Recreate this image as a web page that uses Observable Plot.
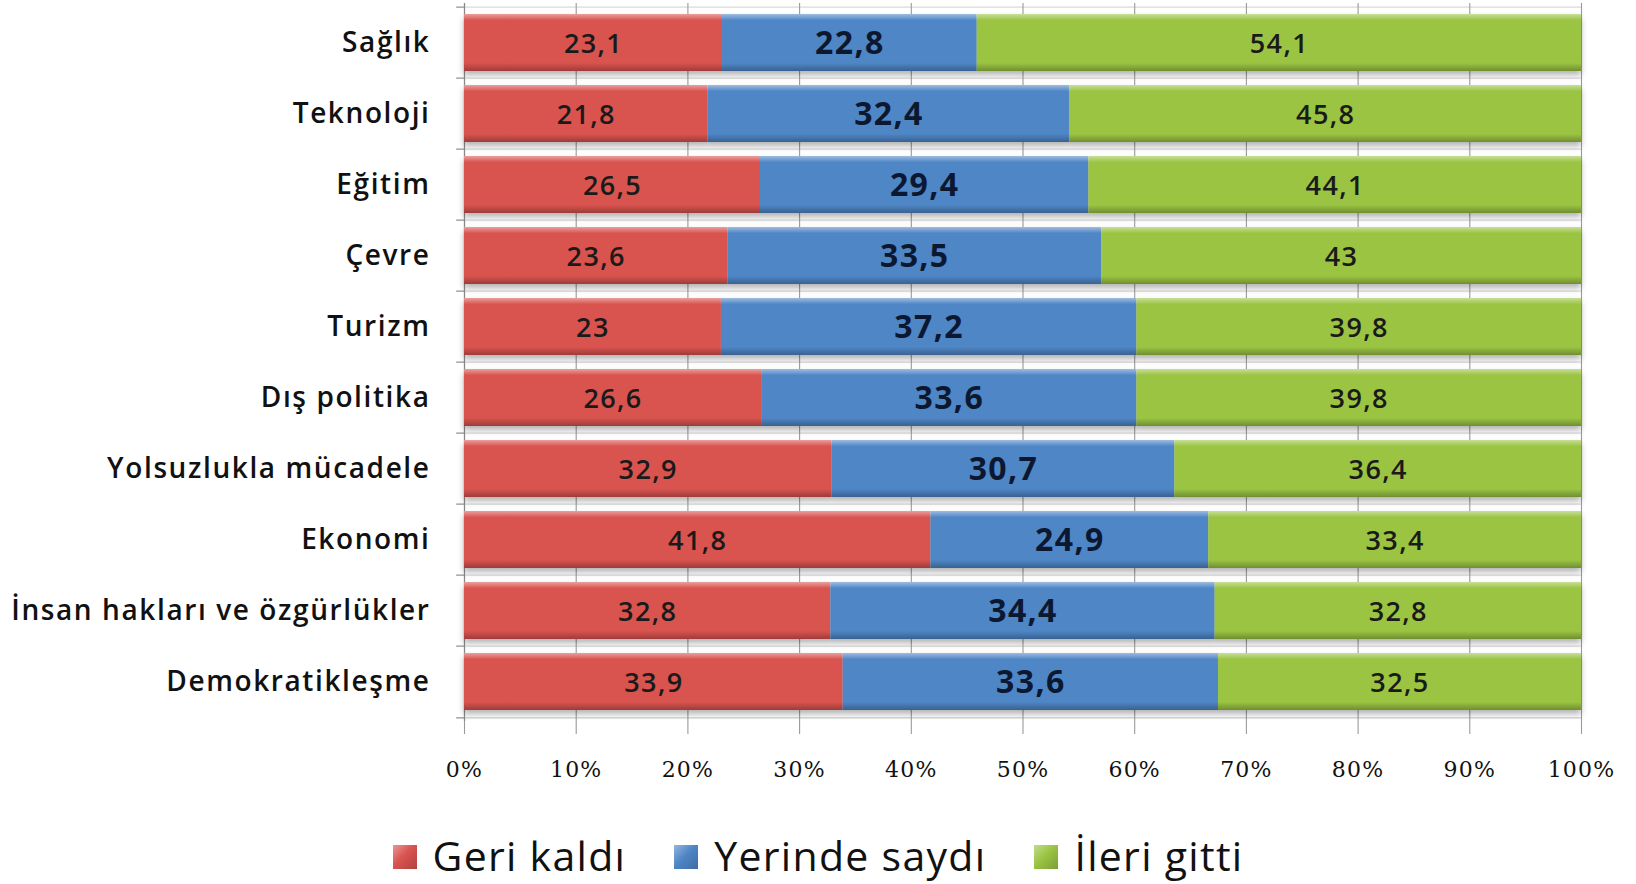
<!DOCTYPE html>
<html><head><meta charset="utf-8">
<script src="https://cdn.jsdelivr.net/npm/d3@7"></script>
<script src="https://cdn.jsdelivr.net/npm/@observablehq/plot@0.6"></script>
<style>
html,body{margin:0;padding:0;background:#fff;width:1636px;height:884px;overflow:hidden;font-family:"Open Sans",sans-serif;}
#legend{height:84px;display:flex;justify-content:center;align-items:center;padding-left:0px;box-sizing:border-box;padding-top:26px;}
.item{display:flex;align-items:center;margin:0 24px;font-size:41px;color:#111;letter-spacing:1.3px;}
.sw{width:24px;height:24px;margin-right:16px;margin-top:4px;}
</style></head><body>
<div id="chart"></div>
<div id="legend"></div>
<script>
const categories = ["Sağlık","Teknoloji","Eğitim","Çevre","Turizm","Dış politika","Yolsuzlukla mücadele","Ekonomi","İnsan hakları ve özgürlükler","Demokratikleşme"];
const series = ["Geri kaldı","Yerinde saydı","İleri gitti"];
const geriKaldi    = [23.1, 21.8, 26.5, 23.6, 23.0, 26.6, 32.9, 41.8, 32.8, 33.9];
const yerindeSaydi = [22.8, 32.4, 29.4, 33.5, 37.2, 33.6, 30.7, 24.9, 34.4, 33.6];
const ileriGitti   = [54.1, 45.8, 44.1, 43.0, 39.8, 39.8, 36.4, 33.4, 32.8, 32.5];
const xTicks = [0,0.1,0.2,0.3,0.4,0.5,0.6,0.7,0.8,0.9,1];
const seriesColors = ["#d9534f","#4f86c6","#9bc443"];
const gradIds = ["gR","gB","gG"];

const valuesBySeries = [geriKaldi, yerindeSaydi, ileriGitti];
const table = categories.flatMap((c,i)=>series.map((s,j)=>({cat:c, series:s, value:valuesBySeries[j][i]})));
const fmt = v => String(v).replace(".", ",");

const stackOpts = {x:"value", y:"cat", order:series, offset:"normalize"};
const height = 800, marginTop = 3, marginBottom = 79;
const step = (height - marginTop - marginBottom) / categories.length;

const plot = Plot.plot({
  width:1636, height, marginTop, marginBottom, marginLeft:464, marginRight:55,
  style:{fontFamily:"'Open Sans', sans-serif", color:"#111", background:"#fff"},
  x:{domain:[0,1], label:null},
  y:{domain:categories, padding:0.2, paddingOuter:0.1, label:null},
  color:{domain:series, range:gradIds.map(id=>`url(#${id})`)},
  marks:[
    Plot.ruleY(categories, {x1:0, x2:1, stroke:"#d0d0d0", dy:-step/2}),
    Plot.ruleY([categories[categories.length-1]], {x1:0, x2:1, stroke:"#c0c0c0", dy:step/2}),
    Plot.ruleX(xTicks, {stroke:"#9a9a9a", strokeWidth:1.1, insetBottom:-13}),
    Plot.ruleY(categories, {x1:-0.007, x2:0, stroke:"#777", dy:-step/2}),
    Plot.ruleY([categories[categories.length-1]], {x1:-0.007, x2:0, stroke:"#777", dy:step/2}),
    Plot.ruleX([0], {stroke:"#888", strokeWidth:1.2}),
    Plot.barX(table, Plot.stackX({...stackOpts, fill:"series", className:"bars"})),
    Plot.text(table, Plot.filter(d=>d.series!=="Yerinde saydı", Plot.stackX({...stackOpts, z:"series", text:d=>fmt(d.value), fontSize:27, fill:"#1a1a1a", fontWeight:600, dy:1, className:"vlab"}))),
    Plot.text(table, Plot.filter(d=>d.series==="Yerinde saydı", Plot.stackX({...stackOpts, z:"series", text:d=>fmt(d.value), fontSize:32, fill:"#0c1830", fontWeight:700, dy:1, className:"vlab"}))),
    Plot.axisX({ticks:xTicks, tickFormat:d3.format(".0%"), tickSize:0, tickPadding:40, fontSize:22, stroke:"none", fontFamily:"'DejaVu Serif', serif", className:"xax", label:null}),
    Plot.axisY({tickSize:0, tickPadding:34, fontSize:28, fontWeight:600, label:null, className:"yax"})
  ]
});

// gradients + shadow
const svg = d3.select(plot);
const defs = svg.insert("defs", ":first-child");
seriesColors.forEach((c,i)=>{
  const base = d3.color(c);
  const g = defs.append("linearGradient").attr("id", gradIds[i]).attr("x1",0).attr("y1",0).attr("x2",0).attr("y2",1);
  g.append("stop").attr("offset","0%").attr("stop-color", d3.interpolateRgb(base, "#fff")(0.45));
  g.append("stop").attr("offset","11%").attr("stop-color", base.formatHex());
  g.append("stop").attr("offset","86%").attr("stop-color", base.formatHex());
  g.append("stop").attr("offset","100%").attr("stop-color", base.darker(0.9).formatHex());
});
const f = defs.append("filter").attr("id","shadow").attr("x","-5%").attr("y","-20%").attr("width","110%").attr("height","160%");
f.append("feDropShadow").attr("dx",0).attr("dy",4).attr("stdDeviation",3).attr("flood-color","#000").attr("flood-opacity",0.3);
svg.selectAll("g.bars").attr("filter","url(#shadow)");
svg.selectAll("g.xax text").style("letter-spacing","1.2px");
svg.selectAll("g.yax text").style("letter-spacing","1.6px");
svg.selectAll("g.vlab text").style("letter-spacing","1.4px");
document.getElementById("chart").appendChild(plot);

// legend
const lg = d3.select("#legend");
series.forEach((s,i)=>{
  const it = lg.append("div").attr("class","item");
  const base = d3.color(seriesColors[i]);
  it.append("div").attr("class","sw").style("background",
    `linear-gradient(135deg, ${d3.interpolateRgb(base,"#fff")(0.4)} 0%, ${base.formatHex()} 45%, ${base.darker(0.6).formatHex()} 100%)`);
  it.append("span").text(s);
});
</script>
</body></html>
